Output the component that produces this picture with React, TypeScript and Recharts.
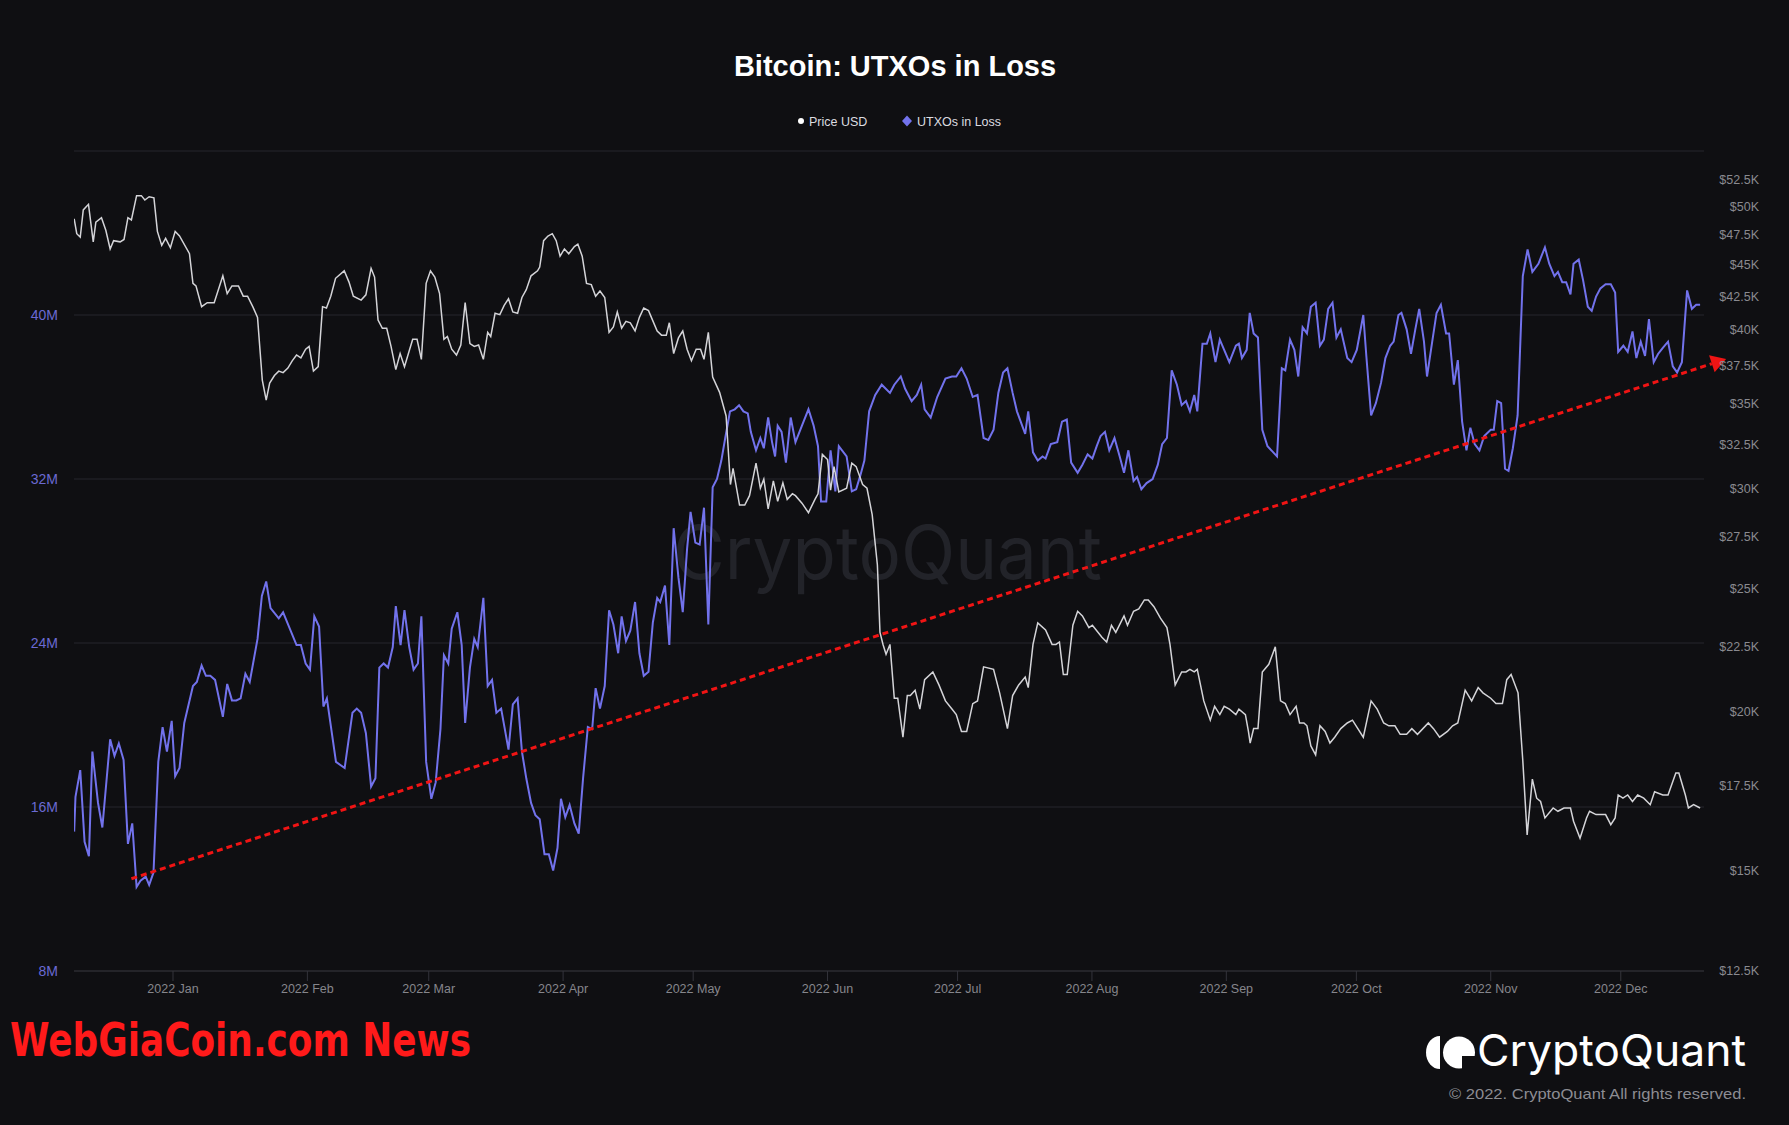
import React from "react";
import {
  LineChart,
  Line,
  XAxis,
  YAxis,
  CartesianGrid,
  ReferenceLine,
} from "recharts";

const W = 1789;
const H = 1125;
const BG = "#0f0f12";
const FONT = "'Liberation Sans', Arial, Helvetica, sans-serif";
const UTXO_COLOR = "#7272ec";
const PRICE_COLOR = "#d4d4d8";
const RED = "#f01414";

// x values are days since 2022-01-01
const monthTicks = [0, 31, 59, 90, 120, 151, 181, 212, 243, 273, 304, 334];
const monthNames = ["Jan", "Feb", "Mar", "Apr", "May", "Jun", "Jul", "Aug", "Sep", "Oct", "Nov", "Dec"];

const utxoTicks = [8, 16, 24, 32, 40, 48];
const priceTicks = [12.5, 15, 17.5, 20, 22.5, 25, 27.5, 30, 32.5, 35, 37.5, 40, 42.5, 45, 47.5, 50, 52.5];

// Price USD (thousands)
const priceDays = [
  -22.8, -22.2, -21.4, -20.7, -19.5, -18.4, -17.8, -16.5, -15.5, -14.5,
  -13.7, -12.2, -11.3, -10.4, -9.6, -8.4, -7.3, -6.5, -5.5, -4.4,
  -3.6, -2.6, -1.7, -0.6, 0.5, 1.5, 3.8, 4.6, 5.3, 6.6,
  7.9, 9.5, 11.5, 12.5, 13.6, 15.1, 16.2, 17.2, 18.4, 19.5,
  20.6, 21.5, 22.3, 23.4, 24.4, 25.4, 26.5, 27.5, 28.5, 29.5,
  30.6, 31.4, 32.4, 33.5, 34.5, 35.4, 36.4, 37.5, 39.5, 40.6,
  41.6, 43.4, 44.5, 45.7, 46.5, 47.3, 48.3, 49.3, 50.3, 51.4,
  52.4, 53.4, 54.5, 55.3, 56.3, 57.3, 58.4, 59.4, 60.4, 61.5,
  62.5, 63.3, 64.3, 65.4, 66.4, 67.4, 68.5, 69.5, 70.5, 71.6,
  72.6, 73.3, 74.3, 75.4, 76.4, 77.4, 78.4, 79.5, 80.5, 81.5,
  82.6, 84.1, 84.6, 85.5, 86.5, 87.5, 88.4, 89.3, 90.3, 91.3,
  92.6, 93.4, 94.4, 95.4, 96.5, 97.5, 98.5, 99.6, 100.6, 101.6,
  102.5, 103.5, 104.5, 105.5, 106.6, 107.6, 108.6, 109.7, 111.7, 112.7,
  113.8, 114.5, 115.5, 116.6, 117.6, 118.6, 119.6, 120.7, 121.7, 122.5,
  123.5, 124.5, 126.1, 127.6, 128.6, 129.2, 130.7, 131.9, 133.0, 134.5,
  135.5, 136.3, 137.3, 138.5, 139.5, 140.7, 141.7, 142.9, 143.6, 145.1,
  146.6, 148.1, 148.8, 149.8, 151.0, 151.7, 152.5, 153.6, 155.4, 156.6,
  157.6, 159.1, 160.1, 161.3, 162.5, 163.1, 163.8, 164.5, 165.4, 166.4,
  167.2, 168.4, 169.4, 170.1, 171.2, 172.3, 173.4, 175.3, 176.7, 178.2,
  179.7, 180.7, 181.9, 183.1, 184.5, 185.6, 187.0, 189.3, 190.7, 192.5,
  193.7, 195.1, 196.6, 197.3, 198.4, 199.5, 201.3, 202.8, 203.7, 204.5,
  205.4, 206.3, 207.6, 208.7, 209.8, 211.3, 212.1, 214.3, 215.4, 216.5,
  217.5, 219.4, 220.2, 221.6, 222.8, 224.1, 225.0, 226.3, 227.8, 229.3,
  230.0, 231.2, 232.7, 233.7, 234.6, 235.6, 236.3, 237.8, 239.3, 240.3,
  241.5, 242.5, 243.7, 245.2, 245.9, 247.4, 248.1, 248.5, 249.3, 250.3,
  251.3, 252.8, 254.3, 255.5, 256.6, 257.7, 259.1, 259.9, 260.9, 261.6,
  262.5, 263.6, 264.6, 265.8, 266.9, 268.0, 269.4, 270.9, 272.1, 274.6,
  276.4, 277.8, 279.3, 280.5, 281.9, 283.1, 284.6, 285.8, 287.1, 289.6,
  290.8, 292.2, 294.0, 295.2, 296.4, 298.1, 299.6, 301.1, 302.2, 304.0,
  305.2, 306.7, 307.7, 308.7, 310.3, 311.4, 312.4, 313.6, 314.6, 315.5,
  316.5, 318.4, 319.5, 320.9, 322.4, 323.1, 324.6, 326.1, 326.8, 328.3,
  330.5, 331.7, 332.7, 333.4, 334.5, 335.6, 336.7, 337.9, 339.3, 340.8,
  341.8, 343.7, 344.9, 346.7, 347.4, 348.9, 349.6, 350.8, 352.3,
];
const priceUsdK = [
  48.9, 47.6, 47.3, 49.7, 50.2, 46.9, 48.6, 49.0, 47.9, 46.3,
  47.0, 46.9, 47.1, 49.0, 48.8, 51.0, 51.0, 50.6, 50.9, 50.8,
  47.8, 46.6, 47.2, 46.4, 47.8, 47.4, 45.9, 43.5, 43.3, 41.7,
  42.0, 42.0, 44.1, 42.7, 43.3, 43.3, 42.5, 42.5, 41.7, 40.9,
  36.5, 35.2, 36.3, 36.8, 37.1, 37.0, 37.3, 37.8, 38.2, 38.0,
  38.6, 38.8, 37.1, 37.4, 41.7, 41.6, 42.5, 43.9, 44.5, 43.6,
  42.5, 42.2, 42.6, 44.7, 44.0, 40.7, 40.1, 40.1, 38.8, 37.2,
  38.3, 37.4, 38.5, 39.3, 39.3, 37.9, 43.5, 44.5, 44.0, 42.7,
  39.3, 39.5, 38.6, 38.2, 38.9, 42.0, 39.0, 38.8, 38.9, 37.9,
  39.8, 39.5, 41.2, 41.1, 41.8, 42.3, 41.3, 41.2, 42.4, 43.0,
  44.1, 44.5, 44.8, 47.0, 47.4, 47.6, 47.0, 45.7, 46.3, 45.9,
  46.5, 46.7, 45.7, 43.5, 43.4, 42.5, 42.9, 42.4, 39.8, 40.2,
  41.3, 40.1, 40.6, 40.5, 39.9, 40.9, 41.6, 41.4, 39.9, 39.6,
  39.6, 40.5, 38.3, 39.4, 39.9, 38.6, 37.8, 38.6, 38.6, 37.9,
  39.8, 36.7, 35.7, 34.2, 30.2, 31.1, 29.1, 29.1, 29.6, 31.4,
  30.0, 30.5, 28.9, 30.4, 29.3, 30.3, 29.4, 29.7, 29.6, 29.2,
  28.7, 29.4, 29.7, 31.9, 31.6, 29.9, 31.2, 29.8, 30.0, 31.4,
  31.2, 30.2, 30.0, 28.6, 26.1, 23.1, 22.6, 22.2, 22.6, 20.5,
  20.5, 19.1, 20.6, 20.6, 20.8, 20.1, 21.2, 21.5, 21.0, 20.4,
  20.1, 19.9, 19.3, 19.3, 20.3, 20.4, 21.7, 21.6, 20.7, 19.4,
  20.6, 21.0, 21.3, 20.9, 22.6, 23.5, 23.2, 22.6, 22.6, 22.7,
  21.4, 21.4, 23.4, 24.0, 23.8, 23.3, 23.4, 22.9, 22.7, 23.4,
  23.1, 23.8, 23.4, 24.0, 24.1, 24.5, 24.5, 24.2, 23.7, 23.3,
  22.6, 21.0, 21.5, 21.5, 21.6, 21.5, 21.6, 20.4, 19.7, 20.2,
  19.9, 20.2, 20.1, 19.9, 20.1, 19.9, 19.3, 18.9, 19.4, 19.4,
  21.5, 21.8, 22.5, 20.4, 20.3, 19.9, 20.2, 19.6, 19.6, 19.5,
  18.8, 18.5, 19.5, 19.3, 18.9, 19.1, 19.4, 19.6, 19.7, 19.1,
  20.4, 20.1, 19.6, 19.5, 19.5, 19.2, 19.2, 19.4, 19.2, 19.6,
  19.4, 19.1, 19.3, 19.5, 19.6, 20.8, 20.4, 20.9, 20.7, 20.5,
  20.3, 20.3, 21.2, 21.4, 20.7, 18.3, 16.0, 17.7, 17.1, 17.0,
  16.5, 16.8, 16.7, 16.8, 16.8, 16.4, 15.9, 16.5, 16.7, 16.6,
  16.6, 16.3, 16.5, 17.2, 17.1, 17.2, 17.0, 17.2, 17.1, 16.9,
  17.3, 17.2, 17.2, 17.9, 17.9, 17.2, 16.8, 16.9, 16.8,
];

// UTXOs in Loss (millions)
const utxoDays = [
  -22.8, -22.5, -21.4, -20.4, -19.4, -18.6, -17.3, -16.3, -14.5, -13.5,
  -12.5, -11.4, -10.4, -9.4, -8.4, -7.5, -6.3, -5.5, -4.5, -3.4,
  -2.4, -1.4, -0.3, 0.5, 1.5, 2.6, 4.6, 5.5, 6.6, 7.6,
  8.6, 9.7, 11.5, 12.5, 13.6, 14.6, 15.6, 16.7, 17.7, 19.5,
  20.5, 21.5, 22.5, 24.4, 25.4, 28.5, 29.5, 30.6, 31.6, 32.6,
  33.7, 34.7, 35.5, 37.6, 39.6, 41.4, 42.4, 43.4, 44.5, 45.7,
  46.7, 47.6, 48.6, 49.6, 50.7, 51.4, 52.5, 53.4, 54.5, 55.5,
  56.5, 57.3, 58.4, 59.6, 60.6, 61.7, 62.5, 63.5, 64.3, 65.6,
  66.6, 67.4, 68.5, 69.5, 70.3, 71.6, 72.6, 73.6, 74.6, 75.7,
  77.4, 78.4, 79.5, 80.5, 81.5, 82.6, 83.6, 84.6, 85.7, 86.7,
  87.7, 88.7, 89.5, 90.5, 91.5, 92.6, 93.6, 94.6, 95.7, 96.7,
  97.5, 98.5, 99.6, 100.6, 101.6, 102.7, 103.5, 104.5, 105.5, 106.6,
  107.6, 108.6, 109.7, 110.7, 111.7, 112.4, 113.5, 114.5, 115.5, 116.6,
  117.6, 118.6, 119.4, 120.5, 121.5, 122.5, 123.5, 124.5, 125.5, 126.5,
  127.4, 128.5, 129.6, 130.6, 131.6, 132.6, 133.3, 134.5, 135.5, 136.3,
  137.3, 138.2, 138.9, 139.5, 140.4, 141.4, 142.5, 143.6, 145.1, 146.6,
  147.8, 148.8, 149.5, 150.7, 151.7, 152.8, 153.6, 155.4, 156.6, 157.6,
  158.6, 159.5, 160.6, 162.0, 163.5, 165.4, 166.4, 167.9, 168.9, 170.4,
  171.6, 172.6, 173.4, 174.8, 176.3, 178.2, 179.7, 180.7, 181.9, 183.1,
  184.5, 185.6, 187.0, 188.1, 189.3, 190.4, 191.5, 192.5, 193.7, 194.7,
  195.9, 196.6, 197.3, 198.4, 199.5, 200.6, 201.3, 202.5, 204.0, 205.1,
  206.2, 207.2, 208.7, 209.8, 211.0, 212.1, 213.1, 214.0, 215.0, 216.0,
  217.2, 218.4, 219.4, 220.4, 221.6, 222.4, 223.4, 224.6, 226.0, 227.2,
  228.2, 229.3, 230.4, 231.6, 232.7, 233.7, 234.6, 235.6, 236.3, 237.5,
  238.5, 239.3, 240.5, 241.5, 242.5, 243.7, 245.2, 245.9, 246.6, 247.7,
  248.4, 249.3, 250.3, 251.3, 252.5, 254.7, 255.8, 256.6, 257.7, 258.7,
  259.6, 260.6, 261.6, 262.5, 263.6, 264.6, 265.5, 266.5, 267.5, 268.4,
  269.4, 270.9, 271.9, 273.1, 274.6, 275.3, 276.4, 277.5, 278.7, 279.7,
  280.8, 281.6, 282.7, 283.4, 284.6, 285.6, 286.6, 287.5, 288.6, 289.3,
  290.5, 291.5, 292.5, 293.7, 294.4, 295.5, 296.4, 297.4, 298.4, 299.3,
  300.3, 301.4, 302.5, 304.0, 304.7, 305.5, 306.4, 307.3, 308.1, 309.1,
  310.2, 311.4, 312.5, 313.6, 315.0, 316.5, 317.5, 318.7, 319.5, 320.5,
  321.4, 322.4, 323.1, 324.3, 325.3, 326.4, 327.3, 328.3, 329.3, 330.5,
  331.7, 332.7, 333.4, 334.6, 335.6, 336.7, 337.6, 338.6, 339.6, 340.5,
  341.6, 342.6, 343.7, 344.9, 346.0, 347.0, 348.1, 349.3, 350.4, 351.4,
  352.3,
];
const utxoMillions = [
  14.8, 16.5, 17.8, 14.3, 13.6, 18.7, 16.2, 15.0, 19.3, 18.5,
  19.1, 18.3, 14.2, 15.2, 12.1, 12.4, 12.6, 12.2, 12.8, 18.2,
  19.9, 18.7, 20.2, 17.5, 17.9, 20.1, 21.9, 22.1, 22.9, 22.4,
  22.4, 22.2, 20.4, 22.0, 21.2, 21.2, 21.3, 22.5, 22.1, 24.2,
  26.3, 27.0, 25.7, 25.2, 25.5, 23.9, 23.9, 23.0, 22.7, 25.3,
  24.8, 20.9, 21.3, 18.2, 17.9, 20.6, 20.8, 20.6, 19.6, 17.0,
  17.4, 22.8, 23.0, 22.8, 23.8, 25.8, 23.9, 25.6, 23.8, 22.7,
  23.0, 25.3, 18.2, 16.4, 17.2, 19.8, 23.4, 23.0, 24.7, 25.5,
  23.9, 20.1, 22.8, 24.2, 23.8, 26.2, 21.9, 22.2, 20.6, 20.8,
  18.8, 21.0, 21.3, 18.7, 17.4, 16.2, 15.6, 15.4, 13.7, 13.7,
  12.9, 14.0, 16.4, 15.5, 16.1, 15.2, 14.7, 17.4, 19.9, 19.8,
  21.8, 20.8, 21.9, 25.6, 24.9, 23.5, 25.3, 24.1, 24.6, 26.0,
  23.5, 22.4, 22.6, 25.0, 26.2, 26.0, 26.8, 23.9, 29.6, 27.2,
  25.5, 28.6, 30.4, 28.9, 28.8, 30.6, 24.9, 31.6, 32.0, 32.9,
  34.0, 35.3, 35.4, 35.6, 35.3, 35.2, 34.3, 33.4, 34.0, 33.5,
  35.0, 33.8, 33.1, 34.6, 34.3, 32.8, 35.0, 33.8, 34.6, 35.4,
  34.6, 33.6, 30.9, 30.9, 33.4, 31.4, 33.6, 33.1, 31.4, 31.5,
  32.2, 32.9, 35.3, 36.1, 36.6, 36.2, 36.6, 37.0, 36.4, 35.8,
  36.1, 36.6, 35.4, 35.0, 36.0, 36.9, 37.0, 37.0, 37.4, 36.9,
  36.0, 36.1, 34.0, 33.9, 34.4, 36.2, 37.2, 37.4, 36.2, 35.3,
  34.6, 34.2, 35.3, 33.3, 32.9, 33.1, 33.0, 33.7, 33.8, 34.8,
  34.9, 32.8, 32.3, 32.7, 33.2, 33.0, 33.6, 34.1, 34.3, 33.4,
  34.0, 33.1, 32.3, 33.4, 31.9, 32.1, 31.5, 31.8, 32.0, 32.7,
  33.7, 34.0, 37.3, 36.6, 35.6, 35.8, 35.3, 36.1, 35.3, 38.6,
  38.6, 39.1, 37.7, 38.8, 38.3, 37.7, 38.5, 38.6, 37.9, 38.3,
  40.1, 39.1, 38.9, 34.4, 33.6, 33.1, 37.4, 37.3, 38.8, 38.3,
  37.0, 39.4, 39.1, 40.4, 40.6, 38.5, 38.8, 40.3, 40.6, 38.9,
  39.3, 37.9, 37.7, 38.3, 40.0, 38.0, 35.1, 35.7, 36.7, 37.9,
  38.5, 38.7, 40.0, 40.1, 39.3, 38.1, 39.3, 40.3, 38.7, 37.0,
  38.7, 40.1, 40.5, 39.1, 39.1, 36.6, 37.8, 34.8, 33.4, 34.5,
  33.7, 33.4, 34.1, 34.4, 34.4, 35.8, 35.7, 32.5, 32.4, 33.5,
  35.1, 41.9, 43.2, 42.1, 42.5, 43.3, 42.5, 41.9, 42.1, 41.6,
  41.6, 41.0, 42.5, 42.7, 41.7, 40.4, 40.2, 40.9, 41.3, 41.5,
  41.5, 41.1, 38.2, 38.5, 38.2, 39.2, 37.9, 38.7, 38.0, 39.8,
  37.7, 38.1, 38.4, 38.7, 37.5, 37.2, 37.7, 41.2, 40.3, 40.5,
  40.5,
];

// red dashed trend annotation, in (day, UTXO millions)
const trendLine = [
  { x: -9.6, y: 12.5 },
  { x: 358.3, y: 37.85 },
];

const priceData = priceDays
  .slice(0, Math.min(priceDays.length, priceUsdK.length))
  .map((day, i) => ({ day, price: priceUsdK[i] }));
const utxoData = utxoDays
  .slice(0, Math.min(utxoDays.length, utxoMillions.length))
  .map((day, i) => ({ day, utxo: utxoMillions[i] }));

const PriceTick = (props: any) => {
  const { x, y, payload } = props;
  return (
    <text
      x={x + 55}
      y={y}
      dy="0.355em"
      textAnchor="end"
      fill="#8a8a90"
      fontSize={12.5}
      fontFamily={FONT}
    >
      ${payload.value}K
    </text>
  );
};

const TrendArrow = (props: any) => {
  const { x1, y1, x2, y2 } = props;
  const dx = x2 - x1;
  const dy = y2 - y1;
  const len = Math.hypot(dx, dy) || 1;
  const ux = dx / len;
  const uy = dy / len;
  const head = 15;
  const half = 9;
  const bx = x2 - ux * head;
  const by = y2 - uy * head;
  const nx = -uy;
  const ny = ux;
  return (
    <g>
      <line
        x1={x1}
        y1={y1}
        x2={bx}
        y2={by}
        stroke={RED}
        strokeWidth={3}
        strokeDasharray="6 4"
      />
      <polygon
        points={`${x2},${y2} ${bx + nx * half},${by + ny * half} ${bx - nx * half},${by - ny * half}`}
        fill={RED}
      />
    </g>
  );
};

const App: React.FC = () => {
  return (
    <div
      style={{
        position: "absolute",
        left: 0,
        top: 0,
        width: W,
        height: H,
        background: BG,
        overflow: "hidden",
        fontFamily: FONT,
      }}
    >
      {/* watermark behind the series */}
      <svg width={W} height={H} style={{ position: "absolute", left: 0, top: 0 }}>
        <text
          x={673}
          y={579}
          fontSize={74}
          fontFamily="Inter, 'Open Sans', sans-serif"
          fill="#222329"
          textLength={429}
          lengthAdjust="spacingAndGlyphs"
        >
          CryptoQuant
        </text>
      </svg>

      <div style={{ position: "absolute", left: 0, top: 0 }}>
        <LineChart
          width={W}
          height={H}
          margin={{ top: 151, right: 0, bottom: 124, left: 0 }}
        >
          <CartesianGrid yAxisId="utxo" vertical={false} stroke="#26262c" />
          <XAxis
            dataKey="day"
            type="number"
            domain={[-22.84, 353.2]}
            allowDataOverflow
            ticks={monthTicks}
            interval={0}
            tickFormatter={(d: number) => `2022 ${monthNames[monthTicks.indexOf(d)]}`}
            height={30}
            tickSize={10}
            tickMargin={3}
            axisLine={{ stroke: "#2e2e35" }}
            tickLine={{ stroke: "#34343b" }}
            tick={{ fill: "#86868c", fontSize: 12.5, fontFamily: FONT }}
          />
          <YAxis
            yAxisId="utxo"
            orientation="left"
            width={74}
            domain={[8, 48]}
            allowDataOverflow
            ticks={utxoTicks}
            interval={0}
            tickFormatter={(v: number) => (v === 48 ? "" : `${v}M`)}
            axisLine={false}
            tickLine={false}
            tickSize={0}
            tickMargin={16}
            tick={{ fill: "#6a6ad2", fontSize: 14, fontFamily: FONT }}
          />
          <YAxis
            yAxisId="price"
            orientation="right"
            width={85}
            scale="log"
            domain={[12.5, 55.3]}
            allowDataOverflow
            ticks={priceTicks}
            interval={0}
            axisLine={false}
            tickLine={false}
            tickSize={0}
            tickMargin={0}
            tick={<PriceTick />}
          />
          <Line
            yAxisId="utxo"
            data={utxoData}
            dataKey="utxo"
            type="linear"
            stroke={UTXO_COLOR}
            strokeWidth={2}
            dot={false}
            activeDot={false}
            isAnimationActive={false}
          />
          <Line
            yAxisId="price"
            data={priceData}
            dataKey="price"
            type="linear"
            stroke={PRICE_COLOR}
            strokeWidth={1.5}
            dot={false}
            activeDot={false}
            isAnimationActive={false}
          />
          <ReferenceLine
            yAxisId="utxo"
            segment={trendLine}
            ifOverflow="visible"
            stroke={RED}
            shape={TrendArrow}
          />
        </LineChart>
      </div>

      {/* title, legend and branding */}
      <svg
        width={W}
        height={H}
        style={{ position: "absolute", left: 0, top: 0, pointerEvents: "none" }}
      >
        <text
          x={895}
          y={76}
          textAnchor="middle"
          fontSize={29}
          fontWeight="bold"
          fill="#ffffff"
          fontFamily={FONT}
        >
          Bitcoin: UTXOs in Loss
        </text>

        <circle cx={801} cy={121} r={3} fill="#ffffff" />
        <text x={809} y={125.5} fontSize={12.5} fill="#dcdce0" fontFamily={FONT}>
          Price USD
        </text>
        <polygon points="907,115.5 912,121 907,126.5 902,121" fill={UTXO_COLOR} />
        <text x={917} y={125.5} fontSize={12.5} fill="#dcdce0" fontFamily={FONT}>
          UTXOs in Loss
        </text>

        <text
          x={10}
          y={1056}
          fontSize={47}
          fontWeight="bold"
          fill="#ff1a1a"
          fontFamily="'DejaVu Sans', 'Liberation Sans', sans-serif"
          textLength={461}
          lengthAdjust="spacingAndGlyphs"
        >
          WebGiaCoin.com News
        </text>

        <path d="M1440,1036 A14,16.5 0 0,0 1440,1069 Z" fill="#ffffff" />
        <circle cx={1459} cy={1052.5} r={16} fill="#ffffff" />
        <rect x={1462} y={1056} width={14} height={14} fill={BG} />
        <text
          x={1477}
          y={1066}
          fontSize={44}
          fill="#ffffff"
          fontFamily="Inter, 'Open Sans', sans-serif"
          textLength={269}
          lengthAdjust="spacingAndGlyphs"
        >
          CryptoQuant
        </text>
        <text
          x={1449}
          y={1099}
          fontSize={15}
          fill="#8c8c92"
          fontFamily={FONT}
          textLength={297}
          lengthAdjust="spacingAndGlyphs"
        >
          © 2022. CryptoQuant All rights reserved.
        </text>
      </svg>
    </div>
  );
};

export default App;
